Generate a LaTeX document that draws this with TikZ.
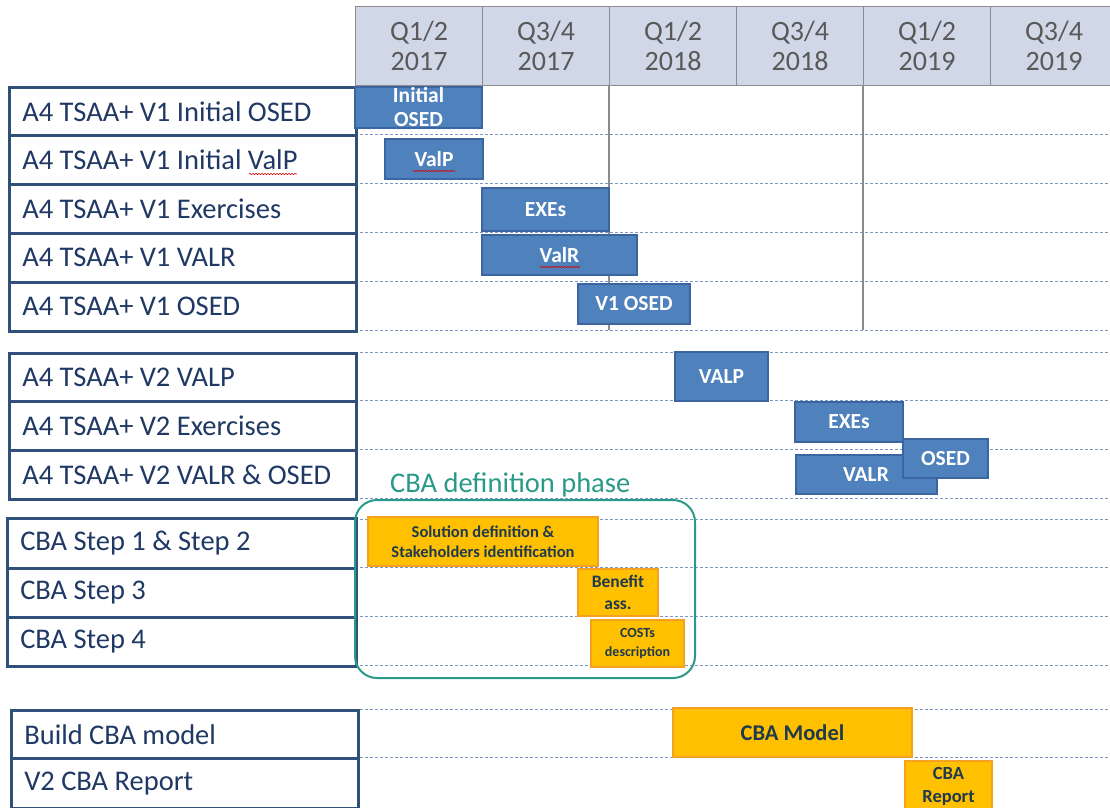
\documentclass[tikz,border=0pt]{standalone}
\usepackage{fontspec}
\setmainfont{Carlito}
\usetikzlibrary{decorations.pathmorphing}
\definecolor{hdrfill}{HTML}{D0D8E8}
\definecolor{hdrline}{HTML}{8C8C8C}
\definecolor{hdrtext}{HTML}{595959}
\definecolor{lblline}{HTML}{2F5079}
\definecolor{lbltext}{HTML}{1F3864}
\definecolor{dashc}{HTML}{7F97C0}
\definecolor{bluefill}{HTML}{4F81BD}
\definecolor{blueline}{HTML}{3A65A0}
\definecolor{orfill}{HTML}{FFC000}
\definecolor{orline}{HTML}{F4A020}
\definecolor{orttext}{HTML}{1F3A4D}
\definecolor{tealc}{HTML}{2A9A88}
\tikzset{
  hdr/.style={draw=hdrline, line width=1.2pt, fill=hdrfill, text=hdrtext,
    minimum width=127pt, minimum height=79pt, anchor=north west, inner sep=0pt,
    align=center, font=\fontsize{28}{30}\selectfont},
  lbl/.style={draw=lblline, line width=2.6pt, fill=white, text=lbltext,
    anchor=north west, inner xsep=13pt, inner ysep=0pt, align=left,
    font=\fontsize{28.5}{32}\selectfont,
    execute at begin node={\spaceskip=6.4pt plus 2pt minus 1pt\relax}},
  bbar/.style={draw=blueline, line width=1.6pt, fill=bluefill, text=white,
    inner sep=0pt, align=center, font=\bfseries\fontsize{21.5}{24}\selectfont},
  obar/.style={draw=orline, line width=1.6pt, fill=orfill, text=orttext,
    inner sep=0pt, align=center, font=\bfseries\fontsize{20}{24}\selectfont},
  gridline/.style={dashc, line width=1pt, dash pattern=on 3pt off 2pt},
  vline/.style={hdrline, line width=1.2pt},
  squig/.style={red!85!black, line width=0.6pt, decorate,
    decoration={snake, amplitude=0.7pt, segment length=3pt}}
}
\begin{document}
\begin{tikzpicture}[x=1pt,y=-1pt]
\useasboundingbox (0,0) rectangle (1110,807);
\fill[white] (0,0) rectangle (1110,807);

% header
\node[hdr] (h1) at (355,6) {Q1/2\\2017};
\node[hdr] (h2) at (482,6) {Q3/4\\2017};
\node[hdr] (h3) at (609,6) {Q1/2\\2018};
\node[hdr] (h4) at (736,6) {Q3/4\\2018};
\node[hdr] (h5) at (863,6) {Q1/2\\2019};
\node[hdr] (h6) at (990,6) {Q3/4\\2019};

% grid
\foreach \yy in {134,183,232,281,330,352,400,449,498,519,567,616,665,709,757}
  \draw[gridline] (355,\yy) -- (1110,\yy);
\draw[vline] (h3.south west) -- (609,330);
\draw[vline] (h5.south west) -- (863,330);

% labels
\node[lbl, minimum width=347pt, minimum height=48pt, text width=321pt] (r1) at (8,86) {A4 TSAA+ V1 Initial OSED};
\node[lbl, minimum width=347pt, minimum height=49pt, text width=321pt] (r2) at (8,134) {A4 TSAA+ V1 Initial ValP};
\node[lbl, minimum width=347pt, minimum height=49pt, text width=321pt] (r3) at (8,183) {A4 TSAA+ V1 Exercises};
\node[lbl, minimum width=347pt, minimum height=49pt, text width=321pt] (r4) at (8,232) {A4 TSAA+ V1 VALR};
\node[lbl, minimum width=347pt, minimum height=49pt, text width=321pt] (r5) at (8,281) {A4 TSAA+ V1 OSED};

\node[lbl, minimum width=347pt, minimum height=48pt, text width=321pt] (r6) at (8,352) {A4 TSAA+ V2 VALP};
\node[lbl, minimum width=347pt, minimum height=49pt, text width=321pt] (r7) at (8,400) {A4 TSAA+ V2 Exercises};
\node[lbl, minimum width=347pt, minimum height=49pt, text width=321pt] (r8) at (8,449) {A4 TSAA+ V2 VALR \& OSED};

\node[lbl, minimum width=349pt, minimum height=50pt, text width=323pt] (r9) at (6,517) {CBA Step 1 \& Step 2};
\node[lbl, minimum width=349pt, minimum height=49pt, text width=323pt] (r10) at (6,567) {CBA Step 3};
\node[lbl, minimum width=349pt, minimum height=49pt, text width=323pt] (r11) at (6,616) {CBA Step 4};

\node[lbl, minimum width=347pt, minimum height=48pt, text width=321pt] (r12) at (10,709) {Build CBA model};
\node[lbl, minimum width=347pt, minimum height=50pt, text width=321pt] (r13) at (10,757) {V2 CBA Report};

\draw[squig] (249,174) -- (297,174);

% blue bars
\node[bbar, minimum width=127pt, minimum height=41pt] (b1) at (418.5,107.5) {Initial\\OSED};
\node[bbar, minimum width=98pt, minimum height=40pt] (b2) at (434,159) {ValP};
\node[bbar, minimum width=127pt, minimum height=43pt] (b3) at (545.5,209.5) {EXEs};
\node[bbar, minimum width=155pt, minimum height=40pt] (b4) at (559.5,255) {ValR};
\node[bbar, minimum width=112pt, minimum height=40pt] (b5) at (634,304) {V1 OSED};
\draw[squig] (413,171) -- (455,171);
\draw[squig] (540,267) -- (580,267);

\node[bbar, minimum width=93pt, minimum height=49pt] (b6) at (721.5,376.5) {VALP};
\node[bbar, minimum width=108pt, minimum height=40pt] (b7) at (849,422) {EXEs};
\node[bbar, minimum width=141pt, minimum height=39pt] (b8) at (866.5,474.5) {\hspace*{-1pt}VALR};
\node[bbar, minimum width=85pt, minimum height=39pt] (b9) at (945.5,458.5) {OSED};

% CBA definition phase
\node[draw=tealc, line width=2pt, rounded corners=22pt, minimum width=340pt, minimum height=178pt, inner sep=0pt] (cba) at (525,589) {};
\node[text=tealc, anchor=base west, inner sep=0pt, font=\fontsize{28.5}{30}\selectfont] (cbat) at (390,492) {CBA definition phase};

% orange bars
\node[obar, minimum width=230pt, minimum height=49pt, font=\bfseries\fontsize{16.5}{20}\selectfont] (o1) at (483,541.5) {Solution definition \&\\Stakeholders identification};
\node[obar, minimum width=80pt, minimum height=47pt, font=\bfseries\fontsize{17.5}{22}\selectfont] (o2) at (618,592.5) {Benefit\\ass.};
\node[obar, minimum width=93pt, minimum height=47pt, font=\bfseries\fontsize{14}{19}\selectfont] (o3) at (637.5,643.5) {COSTs\\description};
\node[obar, minimum width=239pt, minimum height=49pt, font=\bfseries\fontsize{22.5}{26}\selectfont] (o4) at (792.5,732.5) {CBA Model};
\node[obar, minimum width=87pt, minimum height=51pt, font=\bfseries\fontsize{18.5}{23}\selectfont] (o5) at (948.5,786.5) {CBA\\Report};
\end{tikzpicture}
\end{document}
